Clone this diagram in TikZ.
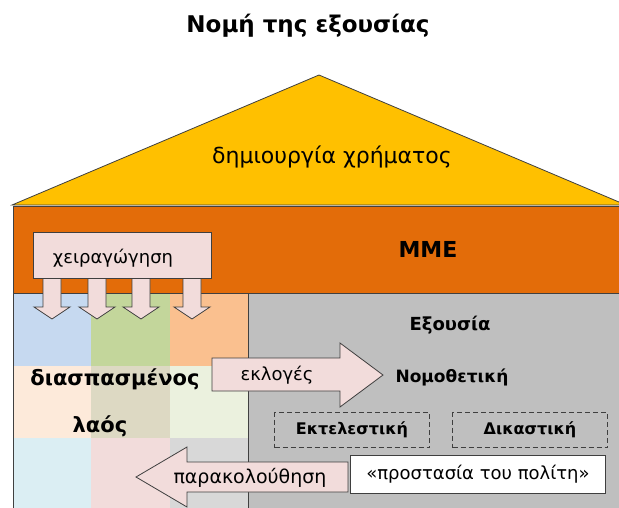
\documentclass[tikz,border=0pt]{standalone}
\usepackage{fontspec}
\setmainfont{DejaVu Sans}
\usepackage{tikz}
\usetikzlibrary{positioning}

\definecolor{roofcol}{HTML}{FFC000}
\definecolor{mediacol}{HTML}{E36C09}
\definecolor{pinkcol}{HTML}{F2DCDB}
\definecolor{powercol}{HTML}{BFBFBF}
\definecolor{edgecol}{HTML}{3F3F3F}
% people grid
\definecolor{cellAA}{HTML}{C6D9F0}
\definecolor{cellAB}{HTML}{C3D69B}
\definecolor{cellAC}{HTML}{FAC08F}
\definecolor{cellBA}{HTML}{FDEADA}
\definecolor{cellBB}{HTML}{DDD9C3}
\definecolor{cellBC}{HTML}{EBF1DE}
\definecolor{cellCA}{HTML}{DBEEF3}
\definecolor{cellCB}{HTML}{F2DCDB}
\definecolor{cellCC}{HTML}{D8D8D8}

\begin{document}
\begin{tikzpicture}
    [x=1pt,y=-1pt,line join=miter,line width=0.8pt,
     txt/.style={inner sep=0pt,anchor=base},
     blockarrow/.style={fill=pinkcol,draw=edgecol},
     branch/.style={draw=edgecol,dash pattern=on 5pt off 3pt,minimum width=155,minimum height=35,inner sep=0pt}]
\useasboundingbox (0,0) rectangle (619,507);
\clip (0,0) rectangle (619,507);
%roof
\draw[fill=roofcol,draw=edgecol] (12,205) -- (319,75) -- (626,205) -- cycle;
%media band
\draw[fill=mediacol,draw=black!75] (13,206) rectangle (640,293);
%the people: colour grid
\fill[cellAA] (13,293) rectangle (91,366);
\fill[cellAB] (91,293) rectangle (170,366);
\fill[cellAC] (170,293) rectangle (248,366);
\fill[cellBA] (13,366) rectangle (91,438);
\fill[cellBB] (91,366) rectangle (170,438);
\fill[cellBC] (170,366) rectangle (248,438);
\fill[cellCA] (13,438) rectangle (91,520);
\fill[cellCB] (91,438) rectangle (170,520);
\fill[cellCC] (170,438) rectangle (248,520);
%power block
\fill[powercol] (248,293) rectangle (640,520);
\draw[black!75] (248,293) -- (248,520);
\draw[black!75] (13,206) -- (13,520);
\draw[black!75] (13,293) -- (640,293);

%manipulation arrows and box
\foreach \x in {52,97,141,192}
  \draw[blockarrow] ({\x-9},270) -- ({\x+9},270) -- ({\x+9},307) -- ({\x+18},307)
     -- (\x,319) -- ({\x-18},307) -- ({\x-9},307) -- cycle;
\node[draw=edgecol,fill=pinkcol,minimum width=178,minimum height=46,inner sep=0pt] (manip) at (122,255) {};
\node[txt,font=\fontsize{18}{20}\selectfont] (manipl) at (113,263) {χειραγώγηση};

%elections arrow
\draw[blockarrow] (212,358) -- (340,358) -- (340,343) -- (383,375) -- (340,407) -- (340,391) -- (212,391) -- cycle;
\node[txt,font=\fontsize{18}{20}\selectfont] (elect) at (277,380) {εκλογές};

%monitoring arrow
\draw[blockarrow] (348,462) -- (187,462) -- (187,447) -- (136,477) -- (187,507) -- (187,492) -- (348,492) -- cycle;
\node[txt,font=\fontsize{19}{21}\selectfont] (watch) at (250,483) {παρακολούθηση};

%texts
\node[txt,font=\bfseries\fontsize{23}{26}\selectfont] (title) at (308,32) {Νομή της εξουσίας};
\node[txt,font=\fontsize{22}{24}\selectfont] (money) at (332,163) {δημιουργία χρήματος};
\node[txt,font=\bfseries\fontsize{22}{24}\selectfont] (media) at (428,257) {ΜΜΕ};
\node[txt,font=\bfseries\fontsize{21}{24}\selectfont] (split) at (115,385) {διασπασμένος};
\node[txt,font=\bfseries\fontsize{21}{24}\selectfont] (people) at (100,432) {λαός};
\node[txt,font=\bfseries\fontsize{18}{20}\selectfont] (power) at (450,330) {Εξουσία};
\node[txt,font=\bfseries\fontsize{17}{20}\selectfont] (legis) at (452,382) {Νομοθετική};

%executive and judicial
\node[branch,font=\bfseries\fontsize{16}{18}\selectfont] (exec) at (352,430) {Εκτελεστική};
\node[branch,font=\bfseries\fontsize{16}{18}\selectfont] (judic) at (530,430) {Δικαστική};
\node[draw=edgecol,fill=white,minimum width=255,minimum height=38,inner sep=0pt,
      font=\fontsize{18}{20}\selectfont] (protect) at (478,474) {«προστασία του πολίτη»};
\end{tikzpicture}
\end{document}
